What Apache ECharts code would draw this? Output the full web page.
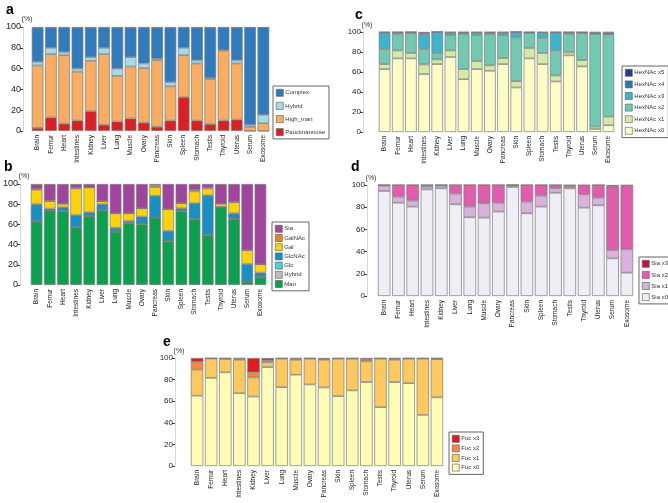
<!DOCTYPE html>
<html><head><meta charset="utf-8">
<script src="https://cdn.jsdelivr.net/npm/echarts@6/dist/echarts.min.js"></script>
<style>html,body{margin:0;padding:0;background:#fff}#c{width:668px;height:503px}</style>
</head><body><div id="c"></div>
<script>
const categories = ['Brain','Femur','Heart','Intestines','Kidney','Liver','Lung','Muscle','Ovary','Pancreas','Skin','Spleen','Stomach','Testis','Thyroid','Uterus','Serum','Exosome'];
const yTicks = [0,20,40,60,80,100];

// Panel a (segment values, %)
const aPaucimannose = [3,13,7,10,19,6,9,12,8,4,10,32.5,10,6.5,10,11,0,0];
const aHighMan      = [60,61,66,47,48.5,68,44,50,52.5,64,33,40.5,55,43.5,67.5,54,4,7.5];
const aHybrid       = [3.5,6,3,3,3.5,6,7,9,4.5,1.5,4,7,3,1,0.5,3,2,8];
const aComplex      = [33.5,20,24,40,29,20,40,29,35,30.5,53,20,32,49,22,32,94,84.5];

// Panel b
const bMan    = [62.7,73.6,73,57,67.7,73.6,52.7,61,60.4,66.7,43.6,73.3,65,49,77,65,3.3,7.3];
const bHybrid = [0.5,0.5,0.5,0.5,0.5,0.5,0.5,0.5,0.5,0,0.5,0.5,0.5,0.5,0,0.5,0,0.5];
const bGlc    = [0,0,0,0,0,0,0,0,0,0,0,0,0,0,0,0,0,0];
const bGlcNAc = [16.8,1.5,3.5,11.8,3.8,5.9,3.5,1.9,6.8,21.7,9.4,2.2,15.5,39.3,0.3,5.5,17.5,4.4];
const bGal    = [14.4,7.4,3.5,26.4,24.7,3,14.3,7.6,8.3,8.6,21.5,5,11.7,6.9,3.2,11,13.8,8.3];
const bGalNAc = [0.5,0.5,0,0.5,0,0,0,0,0,1.4,0,0,1.3,0.7,0,0.3,0,0];
const bSia    = [5.1,16.5,19.5,3.8,3.3,17,29,29,24,1.6,25,19,6,3.6,19.5,17.7,65.4,79.5];

// Panel c
const cHexNAc0 = [62.9,73.6,73.6,57.9,67.9,75,52.8,62.9,61.2,67.9,44.5,73.6,67.9,50.5,76.6,65.6,3,6.7];
const cHexNAc1 = [5,8,5.4,9.7,4.7,6.6,10.1,8,5.4,6,6.3,10.4,11.1,6,3,6.3,2.4,8.7];
const cHexNAc2 = [15.1,16.7,20,15.4,6.4,15.1,35.4,25.8,31.1,22.8,43.8,15,15,25.1,18.7,27.1,92.9,82.3];
const cHexNAc3 = [16.3,1,0.5,14.7,21,2.3,0.7,2.3,1.3,2.3,5.4,0.3,5,17.7,1,0.3,0.2,0.3];
const cHexNAc4 = [0.5,0.5,0.5,1.5,0,0.7,0.7,0.7,0.7,0.7,0,0.5,0.7,0.5,0.5,0.5,1,1.5];
const cHexNAc5 = [0.2,0.2,0,0.8,0,0.3,0.3,0.3,0.3,0.3,0,0.2,0.3,0.2,0.2,0.2,0.5,0.5];

// Panel d
const dSia0 = [94.6,84,80.5,96,97,82.6,70.9,70.6,76,98.2,74.5,80.5,93,97,79.6,81.7,33.9,21];
const dSia1 = [4.9,5.5,5.5,2.5,2.5,9.6,9.6,12.9,8,1.5,10.5,9.9,4,1.5,12,6.9,7.5,21];
const dSia2 = [0.5,10.5,14,1.5,0.5,7.8,19.5,16.5,16,0.3,15,9.6,3,1.2,8.1,11.4,57.1,57.5];
const dSia3 = [0,0,0,0,0,0,0,0,0,0,0,0,0,0.3,0.3,0,1.5,0.5];

// Panel e
const eFuc0 = [65.1,81.6,86.7,67.4,64.3,91.6,73,84.5,75.5,72.7,64.7,70,77.7,54.5,77.7,76.7,47.3,63.6];
const eFuc1 = [24.2,18,12.5,31,17.7,4.4,26.5,13.9,24,25.7,34.8,29.5,19.2,45,20.7,22.8,52.2,35.4];
const eFuc2 = [7.1,0,0.3,1,4.7,1.9,0,1,0,0.7,0,0,1.5,0,1,0,0,0.5];
const eFuc3 = [3.6,0.4,0.5,0.6,13.3,2.1,0.5,0.6,0.5,0.9,0.5,0.5,1.6,0.5,0.6,0.5,0.5,0.5];

const panels = [
  { grid:{left:31, top:27, width:239, height:104}, yOff:8, yFont:9, xFont:6.5, letter:'a', lx:6, ly:3,
    series:[['Paucimannose',aPaucimannose,'#dc1f26'],['High_man',aHighMan,'#f8ad62'],['Hybrid',aHybrid,'#a6d9ec'],['Complex',aComplex,'#2f7bbd']],
    legend:{left:273, top:86, gap:5.5} },
  { grid:{left:29, top:184, width:238, height:101}, yOff:10, yFont:9, xFont:6.5, letter:'b', lx:4, ly:160,
    series:[['Man',bMan,'#0ba04e'],['Hybrid',bHybrid,'#bfbfbf'],['Glc',bGlc,'#4bd2d6'],['GlcNAc',bGlcNAc,'#1890c4'],['Gal',bGal,'#fdd20a'],['GalNAc',bGalNAc,'#e8891a'],['Sia',bSia,'#a1449e']],
    legend:{left:272, top:222, gap:1.6} },
  { grid:{left:378, top:32, width:237, height:100}, yOff:15, yFont:8, xFont:6.5, letter:'c', lx:355, ly:8,
    series:[['HexNAc x0',cHexNAc0,'#fffdc6'],['HexNAc x1',cHexNAc1,'#d2eaa6'],['HexNAc x2',cHexNAc2,'#71c9b1'],['HexNAc x3',cHexNAc3,'#3cb4cb'],['HexNAc x4',cHexNAc4,'#2279b3'],['HexNAc x5',cHexNAc5,'#263a8e']],
    legend:{left:622, top:66, gap:4} },
  { grid:{left:377, top:185, width:257, height:111}, yOff:10, yFont:8, xFont:6.5, letter:'d', lx:351, ly:160,
    series:[['Sia x0',dSia0,'#efedf5'],['Sia x1',dSia1,'#d8b2dc'],['Sia x2',dSia2,'#e25bae'],['Sia x3',dSia3,'#c4124e']],
    legend:{left:639, top:257, gap:3.5} },
  { grid:{left:190, top:358, width:254, height:108}, yOff:15, yFont:8, xFont:6.5, letter:'e', lx:163, ly:335,
    series:[['Fuc x0',eFuc0,'#fffdb4'],['Fuc x1',eFuc1,'#fdc95f'],['Fuc x2',eFuc2,'#f7883c'],['Fuc x3',eFuc3,'#e21b1e']],
    legend:{left:449, top:432, gap:2} }
];

const option = {
  animation:false,
  textStyle:{fontFamily:'Liberation Sans, Arial, sans-serif'},
  grid:[], xAxis:[], yAxis:[], series:[], legend:[], graphic:[]
};

panels.forEach((p,i)=>{
  option.grid.push(Object.assign({containLabel:false}, p.grid));
  option.xAxis.push({
    type:'category', gridIndex:i, data:categories,
    axisLine:{show:false}, axisTick:{show:false},
    axisLabel:{rotate:90, interval:0, fontSize:p.xFont, color:'#222', margin:4}
  });
  option.yAxis.push({
    type:'value', gridIndex:i, min:0, max:100, interval:20, offset:p.yOff,
    name:'(%)', nameLocation:'end', nameGap:3,
    nameTextStyle:{fontSize:7, color:'#333', padding:[0,0,0,8]},
    axisLine:{show:true, lineStyle:{color:'#bbb', width:0.6}},
    axisTick:{show:true, length:3, lineStyle:{color:'#444'}},
    splitLine:{show:false},
    axisLabel:{fontSize:p.yFont, color:'#222', margin:2}
  });
  p.series.forEach(s=>{
    option.series.push({
      type:'bar', name:s[0], xAxisIndex:i, yAxisIndex:i, stack:'st'+i,
      data:s[1], barCategoryGap:'12%',
      itemStyle:{color:s[2], borderColor:'#7a7a7a', borderWidth:0.7}
    });
  });
  const items = p.series.slice().reverse().map(s=>({name:s[0], itemStyle:{color:s[2], borderColor:'#555', borderWidth:0.6}}));
  option.legend.push({
    orient:'vertical', left:p.legend.left, top:p.legend.top,
    backgroundColor:'#fff', borderColor:'#666', borderWidth:1, borderRadius:0,
    padding:[3,4,3,3], itemGap:p.legend.gap, itemWidth:7, itemHeight:7,
    icon:'rect', selectedMode:false,
    textStyle:{fontSize:6, color:'#333', padding:[0,0,0,-3]},
    data:items
  });
  option.graphic.push({type:'text', left:p.lx, top:p.ly,
    style:{text:p.letter, font:'bold 14px Liberation Sans, Arial, sans-serif', fill:'#000'}});
});

const chart = echarts.init(document.getElementById('c'), null, {renderer:'canvas'});
chart.setOption(option);
</script></body></html>
